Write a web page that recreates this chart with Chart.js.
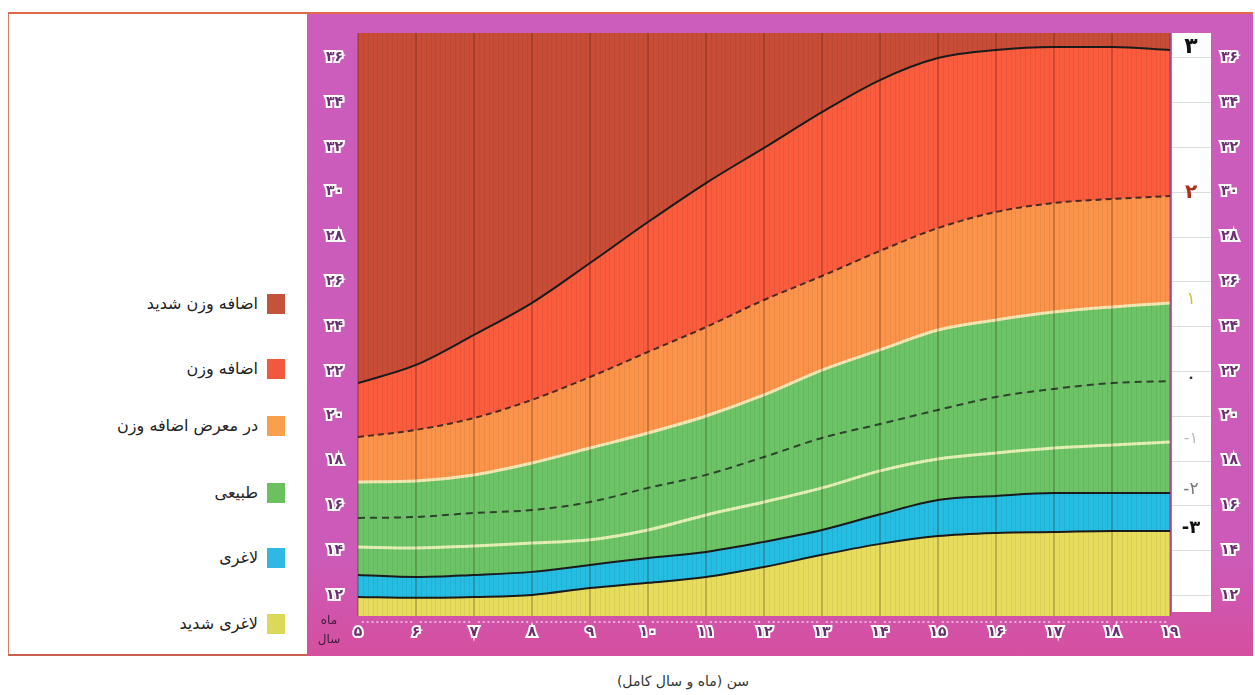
<!DOCTYPE html>
<html lang="fa">
<head>
<meta charset="utf-8">
<title>نمایه توده بدنی برای سن</title>
<script src="https://cdn.jsdelivr.net/npm/chart.js@4.4.1/dist/chart.umd.min.js"></script>
<style>
  html, body { margin: 0; padding: 0; background: #fff; }
  body { width: 1255px; height: 695px; position: relative; overflow: hidden; font-family: "DejaVu Sans", sans-serif; }
  .frame { position: absolute; left: 8px; top: 12px; width: 1245px; height: 644px; border-top: 2px solid #e2684a; border-bottom: 2px solid #c9604f; border-left: 1px solid #d77a6a; box-sizing: border-box; }
  .panel { position: absolute; left: 307px; top: 14px; width: 946px; height: 642px; background: linear-gradient(to bottom, #cc5dbd 0%, #cc5ab8 85%, #d54f9f 100%); }
  .chart-box { position: absolute; left: 307px; top: 14px; width: 946px; height: 642px; }
  .leg { position: absolute; left: 8px; width: 277px; direction: rtl; text-align: right; font-size: 16px; color: #222; line-height: 20px; }
  .leg .sq { display: inline-block; width: 18px; height: 20px; vertical-align: middle; margin-left: 9px; }
  .leg span.t { vertical-align: middle; }
  .corner { position: absolute; left: 316px; top: 611px; width: 26px; font-size: 12px; line-height: 19px; color: #3a1c3a; text-align: center; direction: rtl; }
  .xtitle { position: absolute; left: 583px; width: 200px; top: 673px; text-align: center; font-size: 14px; color: #333; direction: rtl; }
</style>
</head>
<body>
<div class="frame"></div>
<div class="panel"></div>
<div class="chart-box"><canvas id="bmi"></canvas></div>
<div id="legend"></div>
<div class="corner">ماه<br>سال</div>
<div class="xtitle">سن (ماه و سال کامل)</div>

<script>
// DATOS: edad (años) y curvas de z-score del IMC

const ages = [5, 6, 7, 8, 9, 10, 11, 12, 13, 14, 15, 16, 17, 18, 19];
const zPlus3 = [21.46, 22.27, 23.61, 25.04, 26.82, 28.65, 30.39, 31.96, 33.56, 34.99, 35.97, 36.33, 36.46, 36.46, 36.33];
const zPlus2 = [19.05, 19.37, 19.9, 20.71, 21.73, 22.85, 23.96, 25.17, 26.24, 27.36, 28.38, 29.1, 29.5, 29.68, 29.81];
const zPlus1 = [17.04, 17.09, 17.36, 17.89, 18.56, 19.23, 19.99, 20.93, 22.04, 22.94, 23.83, 24.28, 24.63, 24.86, 25.04];
const zMedian = [15.44, 15.48, 15.66, 15.79, 16.15, 16.78, 17.36, 18.16, 19.01, 19.63, 20.26, 20.84, 21.2, 21.46, 21.55];
const zMinus1 = [14.14, 14.1, 14.19, 14.32, 14.46, 14.9, 15.57, 16.15, 16.78, 17.54, 18.07, 18.34, 18.56, 18.7, 18.83];
const zMinus2 = [12.89, 12.8, 12.89, 13.03, 13.34, 13.65, 13.92, 14.37, 14.9, 15.6, 16.24, 16.42, 16.55, 16.55, 16.55];
const zMinus3 = [11.91, 11.87, 11.91, 12.0, 12.31, 12.54, 12.8, 13.25, 13.79, 14.28, 14.63, 14.77, 14.81, 14.86, 14.86];

const yTicks = [12, 14, 16, 18, 20, 22, 24, 26, 28, 30, 32, 34, 36];
const zLabels = ["-۳", "-۲", "-۱", "۰", "۱", "۲", "۳"];

const legendNames = ["اضافه وزن شدید", "اضافه وزن", "در معرض اضافه وزن", "طبیعی", "لاغری", "لاغری شدید"];
const legendColors = ["#c4533c", "#f2583c", "#f8a04e", "#6cc15f", "#2fb9e2", "#dcd85a"];

// colores de las zonas
const cYellow = "#e7dc5c";
const cBlue = "#25bde2";
const cGreen = "#6cc466";
const cOrange = "#fb944a";
const cRed = "#fa5c3d";
const cDarkRed = "#c84d37";

function toFa(n) {
    return String(n).replace(/\d/g, d => "۰۱۲۳۴۵۶۷۸۹"[d]);
}

// LEYENDA
const legendTops = [293, 358, 415, 482, 547, 613];
let legendHtml = "";
legendNames.forEach(function (name, i) {
    legendHtml += '<div class="leg" style="top:' + legendTops[i] + 'px"><span class="sq" style="background:' +
        legendColors[i] + '"></span><span class="t">' + name + '</span></div>';
});
document.getElementById("legend").innerHTML = legendHtml;

function pts(values) {
    return ages.map((a, i) => ({ x: a, y: values[i] }));
}

// franja blanca de la derecha, líneas de meses y etiquetas de z-score
const decoPlugin = {
    id: "deco",
    afterDatasetsDraw(chart) {
        const ctx = chart.ctx;
        const area = chart.chartArea;
        const x = chart.scales.x;
        const y = chart.scales.y;
        ctx.save();
        // líneas de meses
        ctx.strokeStyle = "rgba(0,0,0,0.06)";
        ctx.lineWidth = 1;
        for (let m = 1; m < 14 * 12; m++) {
            if (m % 12 === 0) continue;
            const px = Math.round(x.getPixelForValue(5 + m / 12)) + 0.5;
            ctx.beginPath();
            ctx.moveTo(px, area.top);
            ctx.lineTo(px, area.bottom);
            ctx.stroke();
        }
        // marcas de meses debajo del área
        ctx.fillStyle = "rgba(255,255,255,0.55)";
        for (let m = 1; m < 14 * 12; m++) {
            if (m % 12 === 0) continue;
            const px = x.getPixelForValue(5 + m / 12);
            ctx.fillRect(px - 1, area.bottom + 5, 2, 2);
        }
        // franja blanca
        const sx = area.right + 2;
        ctx.fillStyle = "#ffffff";
        ctx.fillRect(sx, area.top, 39, area.bottom - area.top - 4);
        ctx.strokeStyle = "#dcdcdc";
        ctx.lineWidth = 1;
        yTicks.forEach(function (v) {
            const py = Math.round(y.getPixelForValue(v)) + 0.5;
            ctx.beginPath();
            ctx.moveTo(sx, py);
            ctx.lineTo(sx + 39, py);
            ctx.stroke();
        });
        // etiquetas de z-score al final de cada curva
        const ends = [zMinus3, zMinus2, zMinus1, zMedian, zPlus1, zPlus2, zPlus3];
        const colors = ["#111", "#777", "#bdbdbd", "#333", "#c9c24a", "#a8321e", "#111"];
        const fonts = ["bold 18px", "17px", "16px", "bold 14px", "17px", "bold 20px", "bold 22px"];
        ctx.textAlign = "center";
        ctx.textBaseline = "middle";
        ends.forEach(function (arr, i) {
            const py = y.getPixelForValue(arr[arr.length - 1]) - 3;
            ctx.fillStyle = colors[i];
            ctx.font = fonts[i] + ' "DejaVu Sans"';
            ctx.fillText(zLabels[i], sx + 19, py);
        });
        ctx.restore();
    }
};

const tickFont = { family: "DejaVu Sans", size: 14, weight: "bold" };
const tickStyle = {
    color: "#6a2f6f",
    textStrokeColor: "#ffffff",
    textStrokeWidth: 4,
    font: tickFont
};

function setYTicks(scale) {
    scale.ticks = yTicks.map(v => ({ value: v }));
}

new Chart(document.getElementById("bmi"), {
    type: "line",
    data: {
        datasets: [
            { data: pts(zMinus3), borderColor: "#1b1b1b", borderWidth: 2, fill: "start", backgroundColor: cYellow },
            { data: pts(zMinus2), borderColor: "#1b1b1b", borderWidth: 2, fill: "-1", backgroundColor: cBlue },
            { data: pts(zMinus1), borderColor: "#e4efb6", borderWidth: 3, fill: "-1", backgroundColor: cGreen },
            { data: pts(zMedian), borderColor: "#2c462c", borderWidth: 2, borderDash: [7, 5], fill: "-1", backgroundColor: cGreen },
            { data: pts(zPlus1), borderColor: "#f4e6b2", borderWidth: 3, fill: "-1", backgroundColor: cGreen },
            { data: pts(zPlus2), borderColor: "#4d2a22", borderWidth: 2, borderDash: [6, 4], fill: "-1", backgroundColor: cOrange },
            { data: pts(zPlus3), borderColor: "#1b1b1b", borderWidth: 2, fill: "-1", backgroundColor: cRed },
            { data: pts(zPlus3), borderWidth: 0, borderColor: "transparent", fill: "end", backgroundColor: cDarkRed }
        ]
    },
    options: {
        responsive: true,
        maintainAspectRatio: false,
        animation: false,
        layout: { padding: { top: 19, left: 0, right: 0, bottom: 0 } },
        elements: {
            point: { radius: 0, hoverRadius: 0 },
            line: { cubicInterpolationMode: "monotone" }
        },
        plugins: {
            legend: { display: false },
            tooltip: { enabled: false },
            filler: { drawTime: "beforeDatasetsDraw" }
        },
        scales: {
            x: {
                type: "linear",
                min: 5,
                max: 19,
                ticks: Object.assign({ stepSize: 1, padding: 8, callback: v => toFa(v) }, tickStyle),
                grid: { z: 1, color: "rgba(40,10,0,0.22)", lineWidth: 2, drawTicks: false },
                border: { display: false },
                afterFit: s => { s.height = 40; }
            },
            y: {
                min: 11.06,
                max: 37.09,
                position: "left",
                afterBuildTicks: setYTicks,
                ticks: Object.assign({ padding: 3, callback: v => toFa(v) }, tickStyle),
                grid: { drawOnChartArea: false, drawTicks: true, tickLength: 12, tickColor: "transparent" },
                border: { display: false },
                afterFit: s => { s.width = 51; }
            },
            y2: {
                min: 11.06,
                max: 37.09,
                position: "right",
                afterBuildTicks: setYTicks,
                ticks: Object.assign({ padding: 3, callback: v => toFa(v) }, tickStyle),
                grid: { drawOnChartArea: false, drawTicks: true, tickLength: 48, tickColor: "transparent" },
                border: { display: false },
                afterFit: s => { s.width = 83; }
            }
        }
    },
    plugins: [decoPlugin]
});
</script>
</body>
</html>
